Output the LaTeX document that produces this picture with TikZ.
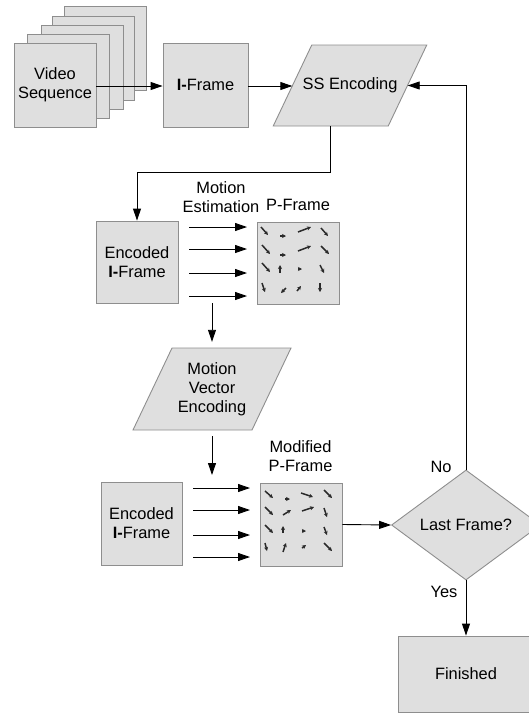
\documentclass[tikz,border=0pt]{standalone}
\usepackage{fontspec}
\setmainfont{Liberation Sans}
\usetikzlibrary{arrows.meta,shapes.geometric,calc}
\definecolor{boxfill}{HTML}{DFDFDF}
\definecolor{boxline}{HTML}{8E8E8E}
\definecolor{vecline}{HTML}{2A2A2A}
\begin{document}
\begin{tikzpicture}[x=1pt,y=-1pt,
  every node/.style={font=\fontsize{16.4}{18.8}\selectfont, align=center, inner sep=0pt},
  box/.style={draw=boxline, fill=boxfill, line width=0.9pt},
  label/.style={},
  conn/.style={draw=black, line width=0.9pt},
  arr/.style={conn, -{Triangle[length=12pt,width=8pt]}},
  mv/.style={draw=vecline, line width=1.5pt, -{Stealth[length=4pt,width=4pt]}},
  decision/.style={shape=diamond, draw=boxline, fill=boxfill, line width=0.9pt,
    aspect=1.35, minimum width=149, minimum height=110}
]
\useasboundingbox (0,0) rectangle (529,713);

% stack of video frames, back to front
\node[box, minimum width=82, minimum height=84] (v5) at (105,48.5) {};
\node[box, minimum width=82, minimum height=84] (v4) at (93,58.5) {};
\node[box, minimum width=82, minimum height=84] (v3) at (82,67.5) {};
\node[box, minimum width=82, minimum height=84] (v2) at (68,76.5) {};
\node[box, minimum width=82, minimum height=84] (video) at (55,85) {Video\\Sequence};

\node[box, minimum width=85, minimum height=84] (iframe) at (205.5,85) {\textbf{I-}Frame};

% SS encoding parallelogram
\coordinate (ssc) at (350,85.5);
\draw[box] ($(ssc)+(-38.25,-40.5)$) -- ($(ssc)+(76.75,-40.5)$)
  -- ($(ssc)+(38.25,40.5)$) -- ($(ssc)+(-76.75,40.5)$) -- cycle;
\node[minimum width=115, minimum height=81] (ss) at (ssc) {SS Encoding};

% first motion estimation stage
\node[box, minimum width=82, minimum height=82] (enc1) at (137,262) {Encoded\\\textbf{I-}Frame};
\node[box, minimum width=82, minimum height=82] (pframe) at (298,263) {};
\node[label] (melabel) at (221,197) {Motion\\Estimation};
\node[label] (pflabel) at (298,205) {P-Frame};

% motion vector encoding parallelogram
\coordinate (mvc) at (212,389);
\draw[box] ($(mvc)+(-40,-41)$) -- ($(mvc)+(79,-41)$)
  -- ($(mvc)+(40,41)$) -- ($(mvc)+(-79,41)$) -- cycle;
\node[minimum width=119, minimum height=82] (mve) at (mvc) {Motion\\Vector\\Encoding};

% second stage
\node[box, minimum width=81, minimum height=83] (enc2) at (141.5,523.5) {Encoded\\\textbf{I-}Frame};
\node[box, minimum width=82, minimum height=83] (mpframe) at (301,524.5) {};
\node[label] (mplabel) at (300.5,456) {Modified\\P-Frame};

\node[decision] (last) at (466,525) {Last Frame?};
\node[label] (nolabel) at (441,467) {No};
\node[label] (yeslabel) at (444,592) {Yes};

\node[box, minimum width=136, minimum height=76] (done) at (466,674) {Finished};

% connectors
\draw[arr] (video.east |- 0,86) -- (iframe.west |- 0,86);
\draw[arr] (iframe.east |- 0,86) -- (ss.west |- 0,86);
\coordinate (ssout) at ($(ss.south)+(-19.25,0)$);
\coordinate (bend) at (ssout |- 0,172);
\draw[arr] (ssout) -- (bend) -| (enc1.north);
\draw[arr] (last.north) |- (ss.east);

\foreach \yy in {227,249,273,296}
  \draw[arr] (189,\yy) -- (247,\yy);
\coordinate (mvin) at (212,303);
\draw[arr, shorten >=6pt] (mvin) -- (mve.north);
\coordinate (mvout) at (212,475);
\draw[arr, shorten <=6pt] (mve.south) -- (mvout);

\foreach \yy in {488,510,535,557}
  \draw[arr] (193,\yy) -- (250,\yy);
\draw[arr] (mpframe.east) -- (last.west);
\draw[arr] (last.south) -- (done.north);

% motion vectors of the P-frame
\draw[mv] (261,227) -- (268,235);
\draw[mv] (280,236) -- (286,236);
\draw[mv] (298,232) -- (311,227);
\draw[mv] (321,228) -- (328,236);
\draw[mv] (262,245) -- (270,254);
\draw[mv] (280,255) -- (286,255);
\draw[mv] (298,251) -- (311,246);
\draw[mv] (321,246) -- (329,254);
\draw[mv] (262,263) -- (270,272);
\draw[mv] (280,273) -- (280,265);
\draw[mv] (298,269) -- (302,269);
\draw[mv] (320,265) -- (324,273);
\draw[mv] (262,283) -- (265,292);
\draw[mv] (286,288) -- (281,293);
\draw[mv] (297,291) -- (301,286);
\draw[mv] (320,283) -- (320,292);

% motion vectors of the modified P-frame
\draw[mv] (265,491) -- (273,498);
\draw[mv] (285,499) -- (290,499);
\draw[mv] (301,493) -- (313,497);
\draw[mv] (324,490) -- (332,498);
\draw[mv] (265,507) -- (273,515);
\draw[mv] (283,515) -- (291,510);
\draw[mv] (302,511) -- (314,507);
\draw[mv] (324,508) -- (327,517);
\draw[mv] (265,525) -- (273,533);
\draw[mv] (283,533) -- (283,526);
\draw[mv] (302,531) -- (306,531);
\draw[mv] (324,527) -- (327,535);
\draw[mv] (265,543) -- (267,551);
\draw[mv] (283,552) -- (286,543);
\draw[mv] (302,548) -- (306,545);
\draw[mv] (324,543) -- (332,551);
\end{tikzpicture}
\end{document}
